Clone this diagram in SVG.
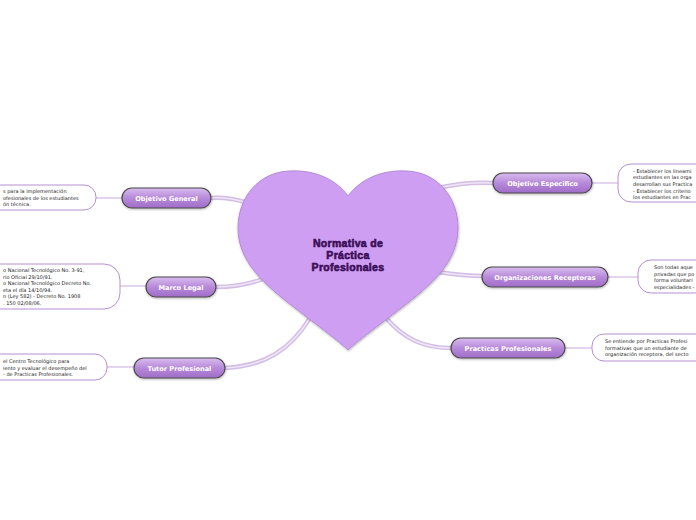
<svg xmlns="http://www.w3.org/2000/svg" width="696" height="520" viewBox="0 0 696 520">
<defs>
<linearGradient id="pill" x1="0" y1="0" x2="0" y2="1">
<stop offset="0" stop-color="#d9bcf0"/>
<stop offset="0.5" stop-color="#b78ad9"/>
<stop offset="1" stop-color="#a06cc8"/>
</linearGradient>
<filter id="sh" x="-10%" y="-10%" width="120%" height="130%">
<feDropShadow dx="0.5" dy="1" stdDeviation="1" flood-color="#000" flood-opacity="0.3"/>
</filter>
</defs>
<style>
.conn{fill:none;stroke:#d3bde5;stroke-width:4.5;stroke-linecap:round}
.conn2{fill:none;stroke:#efe6f6;stroke-width:1.5;stroke-linecap:round}
.thin{fill:none;stroke:#c9a9e0;stroke-width:1}
.pill{fill:url(#pill);stroke:#4b4b4b;stroke-width:1.2}
.ptxt{font-family:"DejaVu Sans",Verdana,sans-serif;font-size:6.6px;font-weight:bold;fill:#fff;text-anchor:middle}
.box{fill:#fff;stroke:#b690d2;stroke-width:1}
.btxt{font-family:"DejaVu Sans",Verdana,sans-serif;font-size:5px;fill:#222}
.ctxt{font-family:"Liberation Sans",Arial,sans-serif;font-size:10.5px;font-weight:bold;letter-spacing:0.3px;fill:#3c0d58;stroke:#3c0d58;stroke-width:0.6;text-anchor:middle}
</style>
<rect width="696" height="520" fill="#fff"/>
<g id="connectors">
<path class="conn" d="M211,198 C225,197 235,199 248,203"/>
<path class="conn2" d="M211,198 C225,197 235,199 248,203"/>
<path class="conn" d="M216,287 C235,287 250,284 266,278"/>
<path class="conn2" d="M216,287 C235,287 250,284 266,278"/>
<path class="conn" d="M225,368 C265,366 290,350 310,318"/>
<path class="conn2" d="M225,368 C265,366 290,350 310,318"/>
<path class="conn" d="M438,188 C460,183 475,182 493,183"/>
<path class="conn2" d="M438,188 C460,183 475,182 493,183"/>
<path class="conn" d="M438,272 C458,275 468,276 482,276"/>
<path class="conn2" d="M438,272 C458,275 468,276 482,276"/>
<path class="conn" d="M386,318 C405,340 425,348 451,348"/>
<path class="conn2" d="M386,318 C405,340 425,348 451,348"/>
<line class="thin" x1="96" y1="198" x2="122" y2="198"/>
<line class="thin" x1="120" y1="286" x2="146" y2="286"/>
<line class="thin" x1="107" y1="367" x2="134" y2="367"/>
<line class="thin" x1="592" y1="183" x2="618" y2="183"/>
<line class="thin" x1="608" y1="277" x2="638" y2="277"/>
<line class="thin" x1="565" y1="348" x2="592" y2="348"/>
</g>
<g id="center">
<path d="M348,196 C333,176 310,170 290,171 C258,172 238,198 238,228 C238,262 265,285 295,308 C318,326 340,342 348,350 C356,342 378,326 401,308 C431,285 458,262 458,228 C458,198 438,172 406,171 C386,170 363,176 348,196 Z" fill="#cd9ef1" stroke="#b48bd3" stroke-width="1" filter="url(#sh)"/>
<text class="ctxt" x="348" y="247">Normativa de</text>
<text class="ctxt" x="348" y="259">Práctica</text>
<text class="ctxt" x="348" y="271">Profesionales</text>
</g>
<g id="objetivo-general">
<rect class="pill" x="122" y="188" width="89" height="20" rx="10" filter="url(#sh)"/>
<text class="ptxt" x="166.5" y="200.5">Objetivo General</text>
</g>
<g id="objetivo-general-nota">
<rect class="box" x="-20" y="185" width="116" height="25" rx="12"/>
<text class="btxt" x="3" y="193">s para la implementación</text>
<text class="btxt" x="3" y="200">ofesionales de los estudiantes</text>
<text class="btxt" x="3" y="206">ón técnica.</text>
</g>
<g id="marco-legal">
<rect class="pill" x="146" y="277" width="70" height="20" rx="10" filter="url(#sh)"/>
<text class="ptxt" x="181" y="289.5">Marco Legal</text>
</g>
<g id="marco-legal-nota">
<rect class="box" x="-20" y="264" width="140" height="45" rx="16"/>
<text class="btxt" x="3" y="272">o Nacional Tecnológico No. 3-91,</text>
<text class="btxt" x="3" y="279">rio Oficial 29/10/91.</text>
<text class="btxt" x="3" y="285">o Nacional Tecnológico Decreto No.</text>
<text class="btxt" x="3" y="292">eta el día 14/10/94.</text>
<text class="btxt" x="3" y="298">n (Ley 582) - Decreto No. 1908</text>
<text class="btxt" x="3" y="305">. 150 02/08/06.</text>
</g>
<g id="tutor-profesional">
<rect class="pill" x="134" y="358" width="91" height="20" rx="10" filter="url(#sh)"/>
<text class="ptxt" x="179.5" y="370.5">Tutor Profesional</text>
</g>
<g id="tutor-profesional-nota">
<rect class="box" x="-20" y="354" width="127" height="26" rx="12"/>
<text class="btxt" x="3" y="363">el Centro Tecnológico para</text>
<text class="btxt" x="3" y="370">iento y evaluar el desempeño del</text>
<text class="btxt" x="3" y="376">- de Practicas Profesionales.</text>
</g>
<g id="objetivo-especifico">
<rect class="pill" x="493" y="173" width="99" height="20" rx="10" filter="url(#sh)"/>
<text class="ptxt" x="542.5" y="185.5">Objetivo Especifico</text>
</g>
<g id="objetivo-especifico-nota">
<rect class="box" x="618" y="164" width="120" height="38" rx="13"/>
<text class="btxt" x="633" y="173">- Establecer los lineami</text>
<text class="btxt" x="633" y="179">estudiantes en las orga</text>
<text class="btxt" x="633" y="186">desarrollan sus Practica</text>
<text class="btxt" x="633" y="193">- Establecer los criterio</text>
<text class="btxt" x="633" y="199">los estudiantes en Prac</text>
</g>
<g id="organizaciones-receptoras">
<rect class="pill" x="482" y="267" width="126" height="20" rx="10" filter="url(#sh)"/>
<text class="ptxt" x="545" y="279.5">Organizaciones Receptoras</text>
</g>
<g id="organizaciones-receptoras-nota">
<rect class="box" x="638" y="260" width="100" height="33" rx="13"/>
<text class="btxt" x="654" y="269">Son todas aque</text>
<text class="btxt" x="654" y="276">privadas que po</text>
<text class="btxt" x="654" y="282">forma voluntari</text>
<text class="btxt" x="654" y="289">especialidades -</text>
</g>
<g id="practicas-profesionales">
<rect class="pill" x="451" y="338" width="114" height="20" rx="10" filter="url(#sh)"/>
<text class="ptxt" x="508" y="350.5">Practicas Profesionales</text>
</g>
<g id="practicas-profesionales-nota">
<rect class="box" x="592" y="334" width="130" height="27" rx="12"/>
<text class="btxt" x="605" y="343">Se entiende por Practicas Profesi</text>
<text class="btxt" x="605" y="350">formativas que un estudiante de</text>
<text class="btxt" x="605" y="356">organización receptora, del secto</text>
</g>
</svg>
